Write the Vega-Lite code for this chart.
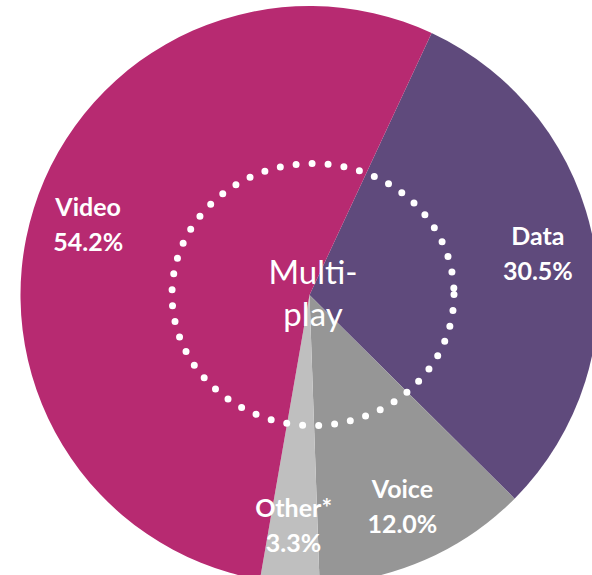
{
  "$schema": "https://vega.github.io/schema/vega-lite/v6.json",
  "autosize": {"type": "none"},
  "width": 560,
  "height": 560,
  "padding": {"left": 29.5, "top": 15, "right": 2.5, "bottom": 0},
  "background": "white",
  "config": {"view": {"stroke": null}},
  "datasets": {
    "shares": [
      {"category": "Data", "share": 0.305, "rank": 1},
      {"category": "Voice", "share": 0.12, "rank": 2},
      {"category": "Other*", "share": 0.033, "rank": 3},
      {"category": "Video", "share": 0.542, "rank": 4}
    ]
  },
  "layer": [
    {
      "data": {"name": "shares"},
      "encoding": {
        "theta": {"field": "share", "type": "quantitative", "stack": true, "scale": {"range": [0.4363, 6.7195]}},
        "order": {"field": "rank", "type": "quantitative"}
      },
      "layer": [
        {
          "mark": {"type": "arc", "outerRadius": 289},
          "encoding": {
            "color": {
              "field": "category",
              "type": "nominal",
              "legend": null,
              "scale": {"domain": ["Data", "Voice", "Other*", "Video"], "range": ["#5F4A7C", "#969696", "#BFBFBF", "#B72A71"]}
            }
          }
        },
        {
          "mark": {"type": "text", "radius": 232, "dy": -17.5, "font": "Lato", "fontWeight": "bold", "fontSize": 25, "color": "white", "align": "center", "baseline": "middle"},
          "encoding": {"text": {"field": "category", "type": "nominal"}}
        },
        {
          "mark": {"type": "text", "radius": 232, "dy": 17.5, "font": "Lato", "fontWeight": "bold", "fontSize": 25, "color": "white", "align": "center", "baseline": "middle"},
          "encoding": {"text": {"field": "share", "type": "quantitative", "format": ".1%"}}
        }
      ]
    },
    {
      "data": {"values": [{"name": "ring"}]},
      "mark": {
        "type": "point",
        "shape": "M1,0 C1,0.5131 0.5523,0.929 0,0.929 C-0.5523,0.929 -1,0.5131 -1,0 C-1,-0.5131 -0.5523,-0.929 0,-0.929 C0.5523,-0.929 1,-0.5131 1,0 Z",
        "size": 79524,
        "filled": false,
        "fill": null,
        "stroke": "white",
        "strokeWidth": 7,
        "strokeDash": [0, 16],
        "strokeCap": "round",
        "opacity": 1,
        "xOffset": 3.5,
        "yOffset": -0.5
      },
      "encoding": {}
    },
    {
      "data": {"values": [{"name": "center"}]},
      "mark": {"type": "text", "text": ["Multi-", "play"], "font": "Lato", "fontSize": 33, "lineHeight": 42, "color": "white", "align": "center", "baseline": "middle", "dx": 3.5, "dy": -21},
      "encoding": {}
    }
  ]
}
